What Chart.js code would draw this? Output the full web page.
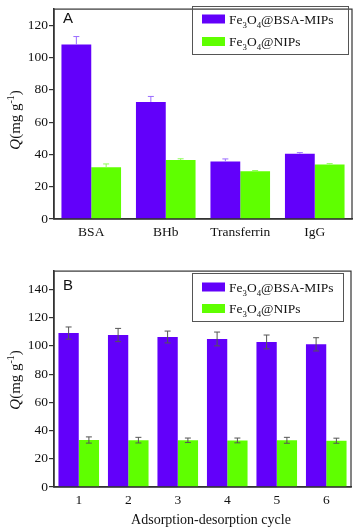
<!DOCTYPE html>
<html>
<head>
<meta charset="utf-8">
<script src="https://cdn.jsdelivr.net/npm/chart.js@4.4.0/dist/chart.umd.min.js"></script>
<style>
  body { margin: 0; background: #fff; }
  canvas { display: block; }
</style>
</head>
<body>
<canvas id="chartA" width="354" height="262"></canvas>
<canvas id="chartB" width="354" height="267"></canvas>
<script>
// panel A: adsorption of different proteins
const proteins = ['BSA', 'BHb', 'Transferrin', 'IgG'];
const mipA = [108, 72.5, 35.6, 40.4];
const mipErrA = [5, 3.4, 1.6, 0.7];
const nipA = [32.1, 36.5, 29.6, 33.8];
const nipErrA = [2, 0.8, 0.4, 0.5];
const yTicksA = [0, 20, 40, 60, 80, 100, 120];

// panel B: reuse cycles
const cycles = ['1', '2', '3', '4', '5', '6'];
const mipB = [109.1, 107.7, 106.3, 104.9, 102.8, 101.1];
const mipErrB = [4.3, 4.7, 4.2, 4.9, 4.9, 4.7];
const nipB = [33.3, 33.2, 33.1, 33.0, 33.1, 32.8];
const nipErrB = [2.2, 2.0, 1.6, 1.7, 2.1, 1.8];
const yTicksB = [0, 20, 40, 60, 80, 100, 120, 140];

const PURPLE = '#6200fa';
const GREEN = '#5fff00';
const SERIF = '"Liberation Serif", "Times New Roman", serif';
const AXIS = '#333';

const mipLabel = [{t: 'Fe'}, {t: '3', sub: true}, {t: 'O'}, {t: '4', sub: true}, {t: '@BSA-MIPs'}];
const nipLabel = [{t: 'Fe'}, {t: '3', sub: true}, {t: 'O'}, {t: '4', sub: true}, {t: '@NIPs'}];

// draw text with sub/superscripts, returns width
function richText(ctx, parts, x, y, size, measureOnly) {
    let cx = x;
    parts.forEach(p => {
        const s = (p.sub || p.sup) ? size * 0.65 : size;
        ctx.font = (p.italic ? 'italic ' : '') + s + 'px ' + SERIF;
        const dy = p.sub ? size * 0.3 : (p.sup ? -size * 0.4 : 0);
        if (!measureOnly) ctx.fillText(p.t, cx, y + dy);
        cx += ctx.measureText(p.t).width;
    });
    return cx - x;
}

const extrasPlugin = {
    id: 'extras',
    afterDatasetsDraw(chart, args, opts) {
        const ctx = chart.ctx;
        const yScale = chart.scales.y;
        ctx.save();
        chart.data.datasets.forEach((ds, i) => {
            const meta = chart.getDatasetMeta(i);
            meta.data.forEach((bar, j) => {
                const v = ds.data[j], e = ds.errors[j];
                const yTop = yScale.getPixelForValue(v + e);
                const yBot = opts.fullErr ? yScale.getPixelForValue(v - e) : yScale.getPixelForValue(v);
                ctx.strokeStyle = opts.fullErr ? '#555' : ds.errColor;
                ctx.lineWidth = 1;
                ctx.beginPath();
                ctx.moveTo(bar.x, yTop);
                ctx.lineTo(bar.x, yBot);
                ctx.moveTo(bar.x - 3, yTop);
                ctx.lineTo(bar.x + 3, yTop);
                if (opts.fullErr) {
                    ctx.moveTo(bar.x - 3, yBot);
                    ctx.lineTo(bar.x + 3, yBot);
                }
                ctx.stroke();
            });
        });
        ctx.restore();
    },
    afterDraw(chart, args, opts) {
        const ctx = chart.ctx;
        const a = chart.chartArea;
        ctx.save();
        // frame
        ctx.strokeStyle = AXIS;
        ctx.lineWidth = 1.2;
        ctx.strokeRect(a.left, a.top, a.right - a.left, a.bottom - a.top);

        // panel letter
        ctx.fillStyle = '#111';
        ctx.font = '15px "Liberation Sans", Arial, sans-serif';
        ctx.textBaseline = 'alphabetic';
        ctx.fillText(opts.letter, a.left + 9, opts.letterY);

        // legend
        const L = opts.legend;
        ctx.strokeStyle = '#555';
        ctx.lineWidth = 1;
        ctx.strokeRect(L.x + 0.5, L.y + 0.5, L.w, L.h);
        const items = [[PURPLE, mipLabel], [GREEN, nipLabel]];
        items.forEach((it, k) => {
            const cy = L.y + L.row0 + k * L.rowGap;
            ctx.fillStyle = it[0];
            ctx.fillRect(L.x + 10, cy - 4.5, 23, 9);
            ctx.fillStyle = '#111';
            richText(ctx, it[1], L.x + 37, cy + 4.5, 13.5);
        });

        // y axis title
        const yt = [{t: 'Q', italic: true}, {t: '(mg g'}, {t: '-1', sup: true}, {t: ')'}];
        const w = richText(ctx, yt, 0, 0, 15, true);
        ctx.translate(opts.yTitleX, opts.yTitleY);
        ctx.rotate(-Math.PI / 2);
        ctx.fillStyle = '#111';
        richText(ctx, yt, -w / 2, 0, 15);
        ctx.restore();

        if (opts.xTitle) {
            ctx.save();
            ctx.fillStyle = '#111';
            ctx.font = '14px ' + SERIF;
            ctx.textAlign = 'center';
            ctx.fillText(opts.xTitle, opts.xTitleX, opts.xTitleY);
            ctx.restore();
        }
    }
};

function makeChart(id, labels, mip, mipErr, nip, nipErr, yMax, yTicks, xHeight, pad, extras, catPct) {
    const ctx = document.getElementById(id).getContext('2d');
    return new Chart(ctx, {
        type: 'bar',
        data: {
            labels: labels,
            datasets: [{
                label: 'Fe3O4@BSA-MIPs',
                data: mip,
                errors: mipErr,
                errColor: '#9a6bff',
                backgroundColor: PURPLE,
                borderWidth: 0
            }, {
                label: 'Fe3O4@NIPs',
                data: nip,
                errors: nipErr,
                errColor: '#8cff55',
                backgroundColor: GREEN,
                borderWidth: 0
            }]
        },
        options: {
            responsive: false,
            devicePixelRatio: 1,
            animation: false,
            layout: {padding: pad},
            datasets: {bar: {categoryPercentage: catPct, barPercentage: 1}},
            plugins: {
                legend: {display: false},
                tooltip: {enabled: false},
                extras: extras
            },
            scales: {
                x: {
                    grid: {display: false, tickLength: 0},
                    border: {display: true, color: AXIS, width: 1.5},
                    ticks: {color: '#111', padding: 5, font: {family: SERIF, size: 13.5}},
                    afterFit: s => { s.height = xHeight; }
                },
                y: {
                    min: 0,
                    max: yMax,
                    afterBuildTicks: s => { s.ticks = yTicks.map(v => ({value: v})); },
                    grid: {drawOnChartArea: false, drawTicks: true, tickLength: 5, color: AXIS, lineWidth: 1.2},
                    border: {display: true, color: AXIS, width: 1.5},
                    ticks: {color: '#111', padding: 1, font: {family: SERIF, size: 13.5}},
                    afterFit: s => { s.width = 54; }
                }
            }
        },
        plugins: [extrasPlugin]
    });
}

makeChart('chartA', proteins, mipA, mipErrA, nipA, nipErrA, 130, yTicksA, 43,
    {left: 0, right: 2, top: 1, bottom: 0},
    {
        fullErr: false, letter: 'A', letterY: 23,
        legend: {x: 192, y: 6, w: 156, h: 48, row0: 13, rowGap: 22.5},
        yTitleX: 20, yTitleY: 120
    }, 0.8);

makeChart('chartB', cycles, mipB, mipErrB, nipB, nipErrB, 153, yTicksB, 42,
    {left: 0, right: 3, top: 7, bottom: 0},
    {
        fullErr: true, letter: 'B', letterY: 28,
        legend: {x: 192, y: 11, w: 151, h: 48, row0: 14, rowGap: 21.5},
        yTitleX: 20, yTitleY: 118,
        xTitle: 'Adsorption-desorption cycle', xTitleX: 211, xTitleY: 262
    }, 0.82);
</script>
</body>
</html>
